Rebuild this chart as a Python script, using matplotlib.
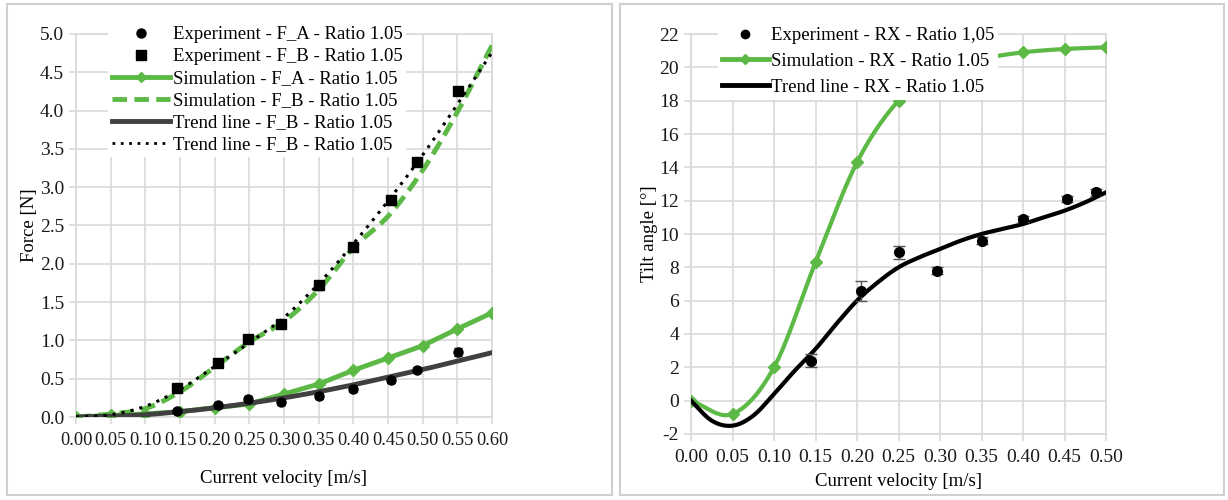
import numpy as np
import matplotlib
matplotlib.use('Agg')
import matplotlib.pyplot as plt
from matplotlib.patches import Rectangle
from matplotlib.lines import Line2D

# --- data ---
v_sim = [0.00, 0.05, 0.10, 0.15, 0.20, 0.25, 0.30, 0.35, 0.40, 0.45, 0.50, 0.55, 0.60]
sim_fa = [0.00, 0.02, 0.04, 0.07, 0.12, 0.17, 0.30, 0.43, 0.61, 0.77, 0.93, 1.15, 1.36]
sim_fb = [0.00, 0.04, 0.11, 0.33, 0.65, 0.98, 1.25, 1.66, 2.21, 2.62, 3.22, 3.98, 4.85]

v_exp_f = [0.145, 0.205, 0.248, 0.296, 0.350, 0.400, 0.454, 0.492, 0.551]
exp_fa = [0.08, 0.16, 0.23, 0.19, 0.27, 0.36, 0.48, 0.62, 0.85]
exp_fa_err = [0.03, 0.03, 0.04, 0.03, 0.04, 0.04, 0.04, 0.03, 0.05]
exp_fb = [0.38, 0.70, 1.02, 1.21, 1.72, 2.22, 2.83, 3.33, 4.25]
exp_fb_err = [0.03, 0.04, 0.04, 0.05, 0.06, 0.05, 0.05, 0.05, 0.05]

trend_fa = [0.00, 0.01, 0.03, 0.07, 0.12, 0.18, 0.25, 0.33, 0.42, 0.52, 0.62, 0.73, 0.84]
trend_fb = [0.00, 0.03, 0.14, 0.36, 0.66, 0.97, 1.30, 1.74, 2.26, 2.82, 3.42, 4.08, 4.76]

v_rx = [0.00, 0.05, 0.10, 0.15, 0.20, 0.25, 0.30, 0.35, 0.40, 0.45, 0.50]
sim_rx = [0.0, -0.8, 2.0, 8.3, 14.3, 18.0, 19.8, 20.5, 20.9, 21.1, 21.2]

v_exp_rx = [0.145, 0.205, 0.250, 0.296, 0.350, 0.400, 0.453, 0.488]
exp_rx = [2.4, 6.6, 8.9, 7.8, 9.6, 10.9, 12.1, 12.5]
exp_rx_err = [0.4, 0.6, 0.4, 0.2, 0.2, 0.2, 0.2, 0.2]

v_trend_rx = [0.000, 0.025, 0.050, 0.075, 0.100, 0.125, 0.150, 0.175, 0.200, 0.225, 0.250,
              0.275, 0.300, 0.325, 0.350, 0.375, 0.400, 0.425, 0.450, 0.475, 0.500]
trend_rx = [0.0, -1.2, -1.5, -0.9, 0.4, 1.8, 3.1, 4.6, 6.0, 7.1, 8.0,
            8.6, 9.1, 9.6, 10.0, 10.3, 10.6, 11.0, 11.4, 11.9, 12.5]

GREEN = '#5cb946'
GRID = '#d9d9d9'
plt.rcParams['font.family'] = ['Liberation Serif', 'DejaVu Serif']
plt.rcParams['axes.unicode_minus'] = False
FS = 13.5
TFS = 14


def smooth(x, y, n=16):
    # Catmull-Rom through the points, like Excel's smoothed line
    x = np.asarray(x, float); y = np.asarray(y, float)
    px = np.concatenate([[2 * x[0] - x[1]], x, [2 * x[-1] - x[-2]]])
    py = np.concatenate([[2 * y[0] - y[1]], y, [2 * y[-1] - y[-2]]])
    xs, ys = [], []
    t = np.linspace(0, 1, n, endpoint=False)
    for i in range(1, len(px) - 2):
        for arr, out in ((px, xs), (py, ys)):
            p0, p1, p2, p3 = arr[i - 1], arr[i], arr[i + 1], arr[i + 2]
            out.extend(0.5 * (2 * p1 + (-p0 + p2) * t + (2 * p0 - 5 * p1 + 4 * p2 - p3) * t ** 2
                              + (-p0 + 3 * p1 - 3 * p2 + p3) * t ** 3))
    xs.append(x[-1]); ys.append(y[-1])
    return np.array(xs), np.array(ys)


def style_axes(ax):
    ax.grid(True, color=GRID, lw=1.2, zorder=0)
    ax.set_axisbelow(True)
    for s in ax.spines.values():
        s.set_color(GRID)
        s.set_linewidth(1.2)
    ax.tick_params(direction='out', length=5, color=GRID, width=1.2, labelsize=TFS,
                   labelcolor='#1a1a1a')


fig = plt.figure(figsize=(12.28, 5.0), dpi=100)

# panel borders
for x0, x1 in ((7, 612), (620, 1224)):
    fig.patches.append(Rectangle((x0 / 1228, 5 / 500), (x1 - x0) / 1228, 491 / 500,
                                 transform=fig.transFigure, fill=False, ec='#d0d0d0', lw=1.5))

# ---- left panel: forces ----
ax1 = fig.add_axes([76 / 1228, 1 - 417 / 500, 416 / 1228, 383 / 500])
style_axes(ax1)
ax1.errorbar(v_exp_f, exp_fa, yerr=exp_fa_err, fmt='o', color='black', ms=6.5, capsize=3, elinewidth=1, zorder=4)
ax1.errorbar(v_exp_f, exp_fb, yerr=exp_fb_err, fmt='s', color='black', ms=6.5, capsize=3, elinewidth=1, zorder=4)
ax1.plot(v_sim, sim_fa, color=GREEN, lw=3.5, marker='D', ms=6, zorder=3)
xs, ys = smooth(v_sim, sim_fb)
ax1.plot(xs, ys, color=GREEN, lw=3.5, ls=(0, (3, 1.5)), zorder=3)
xs, ys = smooth(v_sim, trend_fa)
ax1.plot(xs, ys, color='#404040', lw=3.5, zorder=3, solid_capstyle='round')
xs, ys = smooth(v_sim, trend_fb)
ax1.plot(xs, ys, color='black', lw=2.2, ls=(0, (1, 2)), zorder=5)
ax1.set_xlim(0, 0.6)
ax1.set_ylim(0, 5.0)
ax1.set_xticks(np.arange(0, 0.601, 0.05))
ax1.set_yticks(np.arange(0, 5.01, 0.5))
ax1.set_xticklabels([f'{t:.2f}' for t in np.arange(0, 0.601, 0.05)])
ax1.set_yticklabels([f'{t:.1f}' for t in np.arange(0, 5.01, 0.5)])
ax1.tick_params(axis='x', pad=6, labelsize=13.2)
ax1.set_xlabel('Current velocity [m/s]', fontsize=FS, labelpad=15)
ax1.set_ylabel('Force [N]', fontsize=FS, labelpad=1)

h1 = [
    Line2D([], [], ls='none', marker='o', color='black', ms=6.5),
    Line2D([], [], ls='none', marker='s', color='black', ms=6.5),
    Line2D([], [], color=GREEN, lw=3.5, marker='D', ms=5),
    Line2D([], [], color=GREEN, lw=3.5, ls=(0, (3, 1.5))),
    Line2D([], [], color='#404040', lw=3.5),
    Line2D([], [], color='black', lw=2.0, ls=(0, (1, 2))),
]
l1 = ['Experiment - F_A - Ratio 1.05', 'Experiment - F_B - Ratio 1.05',
      'Simulation - F_A - Ratio 1.05', 'Simulation - F_B - Ratio 1.05',
      'Trend line - F_B - Ratio 1.05', 'Trend line - F_B - Ratio 1.05']
leg = ax1.legend(h1, l1, loc='upper left', bbox_to_anchor=(0.055, 1.055), fontsize=FS,
                 handlelength=3.1, handletextpad=0.15, labelspacing=0.26, borderpad=0.2,
                 frameon=True, fancybox=False, framealpha=1, edgecolor='none', facecolor='white')
leg.set_zorder(10)

# ---- right panel: tilt angle ----
ax2 = fig.add_axes([691 / 1228, 1 - 434 / 500, 415 / 1228, 400 / 500])
style_axes(ax2)
xs, ys = smooth(v_rx, sim_rx)
ax2.plot(xs, ys, color=GREEN, lw=3, zorder=3)
ax2.plot(v_rx, sim_rx, ls='none', marker='D', color=GREEN, ms=6, zorder=3)
xs, ys = smooth(v_trend_rx, trend_rx, n=8)
ax2.plot(xs, ys, color='black', lw=3, zorder=3)
ax2.errorbar(v_exp_rx, exp_rx, yerr=exp_rx_err, fmt='o', color='black', ms=7, capsize=4,
             elinewidth=1, ecolor='#555555', zorder=4)
ax2.set_xlim(0, 0.5)
ax2.set_ylim(-2, 22)
ax2.set_xticks(np.arange(0, 0.501, 0.05))
ax2.set_xticklabels([f'{t:.2f}' for t in np.arange(0, 0.501, 0.05)])
ax2.set_yticks(np.arange(-2, 22.1, 2))
ax2.tick_params(axis='x', pad=6)
ax2.set_xlabel('Current velocity [m/s]', fontsize=FS, labelpad=5)
ax2.set_ylabel('Tilt angle [°]', fontsize=FS, labelpad=1)

h2 = [
    Line2D([], [], ls='none', marker='o', color='black', ms=6),
    Line2D([], [], color=GREEN, lw=3.5, marker='D', ms=5),
    Line2D([], [], color='black', lw=3.5),
]
l2 = ['Experiment - RX - Ratio 1,05', 'Simulation - RX - Ratio 1.05', 'Trend line - RX - Ratio 1.05']
leg2 = ax2.legend(h2, l2, loc='upper left', bbox_to_anchor=(0.043, 1.05), fontsize=FS,
                  handlelength=2.5, handletextpad=0.1, labelspacing=0.46, borderpad=0.2,
                  frameon=True, fancybox=False, framealpha=1, edgecolor='none', facecolor='white')
leg2.set_zorder(10)

fig.savefig('out.png', dpi=100)
